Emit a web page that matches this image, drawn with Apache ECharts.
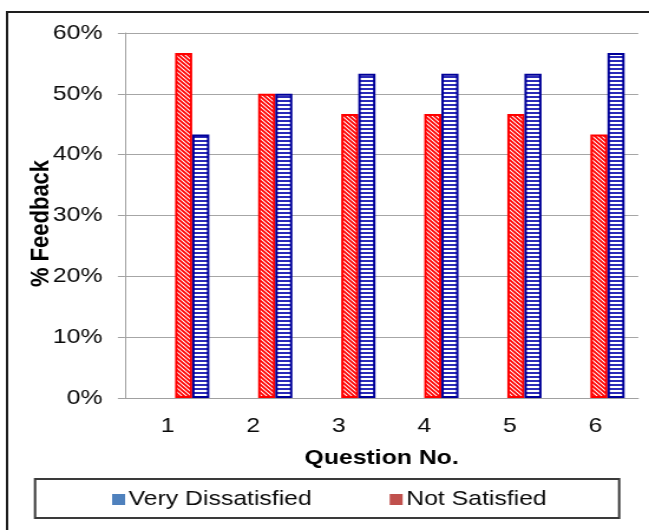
<!DOCTYPE html>
<html>
<head>
<meta charset="utf-8">
<script src="https://cdn.jsdelivr.net/npm/echarts@6/dist/echarts.min.js"></script>
<style>
  html, body { margin: 0; padding: 0; background: #fff; overflow: hidden; }
  /* the chart is laid out at 550px and widened to fill the 649px frame */
  #chart { width: 550px; height: 530px; transform: scaleX(1.18); transform-origin: 0 0; }
</style>
</head>
<body>
<div id="chart"></div>
<script>
// Survey feedback per question (percent of respondents)
const questions = ['1', '2', '3', '4', '5', '6'];
const notSatisfied = [56.7, 50.0, 46.7, 46.7, 46.7, 43.3];
const veryDissatisfied = [43.3, 50.0, 53.3, 53.3, 53.3, 56.7];
const yMin = 0, yMax = 60, yStep = 10;

const FONT = "'Liberation Sans', Arial, sans-serif";

// Fill patterns: red diagonal hatch and blue horizontal stripes
function hatchRed() {
  const c = document.createElement('canvas');
  c.width = 4; c.height = 4;
  const g = c.getContext('2d');
  g.fillStyle = '#ffffff'; g.fillRect(0, 0, 4, 4);
  g.strokeStyle = '#ff0000'; g.lineWidth = 1.8;
  g.beginPath();
  g.moveTo(-1, -1); g.lineTo(5, 5);
  g.moveTo(-1, 3); g.lineTo(1, 5);
  g.moveTo(3, -1); g.lineTo(5, 1);
  g.stroke();
  return c;
}
function stripesBlue() {
  const c = document.createElement('canvas');
  c.width = 4; c.height = 4;
  const g = c.getContext('2d');
  g.fillStyle = '#ffffff'; g.fillRect(0, 0, 4, 4);
  g.fillStyle = '#2b2bb8'; g.fillRect(0, 0, 4, 2);
  return c;
}

const gridLeft = 105.9, gridWidth = 435, gridTop = 33, gridBottom = 132;
const barShift = 21.8;

const chart = echarts.init(document.getElementById('chart'), null, { renderer: 'canvas' });
chart.setOption({
  animation: false,
  backgroundColor: '#ffffff',
  grid: [
    { left: gridLeft, width: gridWidth, top: gridTop, bottom: gridBottom },
    { left: gridLeft + barShift, width: gridWidth, top: gridTop, bottom: gridBottom }
  ],
  xAxis: [
    {
      type: 'category', gridIndex: 0, data: questions,
      name: 'Question No.', nameLocation: 'middle', nameGap: 50, nameMoveOverlap: false,
      nameTextStyle: { fontFamily: FONT, fontSize: 21, fontWeight: 'bold', color: '#000' },
      axisLine: { lineStyle: { color: '#a0a0a0', width: 1 } },
      axisTick: { show: false },
      axisLabel: { fontFamily: FONT, fontSize: 21, color: '#0a0a0a', margin: 18 },
      splitLine: { show: false }
    },
    {
      type: 'category', gridIndex: 1, data: questions, show: false
    }
  ],
  yAxis: [
    {
      type: 'value', gridIndex: 0, min: yMin, max: yMax, interval: yStep,
      name: '% Feedback', nameLocation: 'middle', nameGap: 60, nameRotate: 90, nameMoveOverlap: false,
      nameTextStyle: { fontFamily: FONT, fontSize: 22, fontWeight: 'bold', color: '#000', padding: [0, 16, 0, 0] },
      axisLine: { show: true, lineStyle: { color: '#a0a0a0', width: 1 } },
      axisTick: { show: true, inside: false, length: 6, lineStyle: { color: '#a0a0a0' } },
      axisLabel: { fontFamily: FONT, fontSize: 21, color: '#0a0a0a', margin: 19, formatter: '{value}%' },
      splitLine: { show: true, lineStyle: { color: '#a6a6a6', width: 1 } }
    },
    {
      type: 'value', gridIndex: 1, min: yMin, max: yMax, interval: yStep, show: false,
      splitLine: { show: false }
    }
  ],
  legend: {
    left: 95, top: 489, padding: 0,
    itemWidth: 11, itemHeight: 11, itemGap: 66,
    icon: 'rect',
    textStyle: { fontFamily: FONT, fontSize: 21, color: '#0a0a0a', padding: [0, 0, 0, -2] },
    data: [
      { name: 'Very Dissatisfied', itemStyle: { color: '#4f81bd', borderWidth: 0 } },
      { name: 'Not Satisfied', itemStyle: { color: '#c0504d', borderWidth: 0 } }
    ]
  },
  graphic: [
    {
      type: 'rect', z: 100, silent: true,
      shape: { x: 6, y: 12, width: 700, height: 700 },
      style: { fill: 'none', stroke: '#1e1e1e', lineWidth: 2 }
    },
    {
      type: 'rect', z: 100, silent: true,
      shape: { x: 29.7, y: 479, width: 495, height: 39 },
      style: { fill: 'none', stroke: '#3a3a3a', lineWidth: 2 }
    }
  ],
  series: [
    {
      name: 'Not Satisfied', type: 'bar', xAxisIndex: 1, yAxisIndex: 1,
      data: notSatisfied, barWidth: 14.5, barGap: '0%',
      itemStyle: {
        color: { image: hatchRed(), repeat: 'repeat' },
        borderColor: '#ff0000', borderWidth: 2
      }
    },
    {
      name: 'Very Dissatisfied', type: 'bar', xAxisIndex: 1, yAxisIndex: 1,
      data: veryDissatisfied, barWidth: 14.5, barGap: '0%',
      itemStyle: {
        color: { image: stripesBlue(), repeat: 'repeat' },
        borderColor: '#000099', borderWidth: 2
      }
    }
  ]
});
</script>
</body>
</html>
